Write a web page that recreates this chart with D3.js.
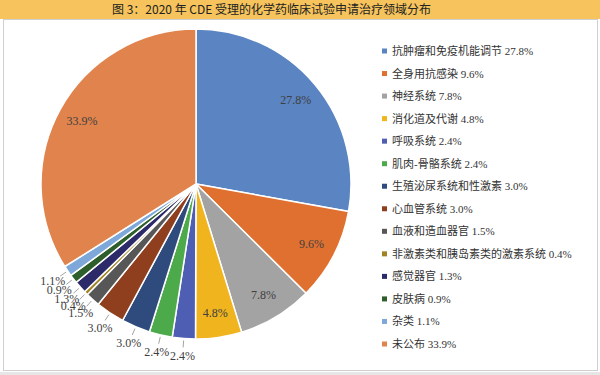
<!DOCTYPE html>
<html>
<head>
<meta charset="utf-8">
<script src="https://d3js.org/d3.v7.min.js"></script>
<style>
  body { margin: 0; background: #fff; }
  svg { display: block; }
</style>
</head>
<body>
<script>
// chart data
var categories = ["抗肿瘤和免疫机能调节", "全身用抗感染", "神经系统", "消化道及代谢", "呼吸系统",
  "肌肉-骨骼系统", "生殖泌尿系统和性激素", "心血管系统", "血液和造血器官",
  "非激素类和胰岛素类的激素系统", "感觉器官", "皮肤病", "杂类", "未公布"];
var shares = [27.8, 9.6, 7.8, 4.8, 2.4, 2.4, 3.0, 3.0, 1.5, 0.4, 1.3, 0.9, 1.1, 33.9];
var sliceColors = ["#5a84c2", "#e07030", "#a3a3a3", "#f0b41e", "#4e5fb3", "#4caa4a", "#2f4b7d",
  "#8f3f1e", "#575757", "#a08424", "#2d2a6a", "#2e5e2b", "#7ea8da", "#e1834c"];
var title = "图 3：2020 年 CDE 受理的化学药临床试验申请治疗领域分布";

var W = 600, H = 375;
var svg = d3.select("body").append("svg").attr("width", W).attr("height", H);

// title bar + frame
svg.append("rect").attr("x", 0).attr("y", 0).attr("width", W).attr("height", 19).attr("fill", "#f6c35c");
svg.append("rect").attr("x", 3.5).attr("y", 19.5).attr("width", 594).attr("height", 351)
  .attr("fill", "#fff").attr("stroke", "#cfcfcf");
svg.append("rect").attr("x", 0).attr("y", 372).attr("width", W).attr("height", 3).attr("fill", "#e6e6e6");
svg.append("text").attr("x", 112).attr("y", 14)
  .style("font-family", "'Noto Sans CJK SC', sans-serif").style("font-size", "12px")
  .style("fill", "#222").text(title);

var data = categories.map(function(c, i) { return { name: c, value: shares[i], color: sliceColors[i] }; });

var cx = 196, cy = 184, r = 155;
var pie = d3.pie().sort(null).value(function(d) { return d.value; });
var arcs = pie(data);
var arc = d3.arc().innerRadius(0).outerRadius(r);

var g = svg.append("g").attr("transform", "translate(" + cx + "," + cy + ")");
g.selectAll("path.slice").data(arcs).enter().append("path")
  .attr("class", "slice")
  .attr("d", arc)
  .attr("fill", function(d) { return d.data.color; })
  .attr("stroke", "#fff").attr("stroke-width", 1.5);

var labelFont = "'Liberation Serif', 'Times New Roman', serif";
function mid(d) { return (d.startAngle + d.endAngle) / 2; }

// big slices: label inside
var inside = arcs.filter(function(d) { return d.data.value >= 4; });
g.selectAll("text.in").data(inside).enter().append("text")
  .attr("class", "in")
  .attr("x", function(d) { return Math.sin(mid(d)) * r * 0.84; })
  .attr("y", function(d) { return -Math.cos(mid(d)) * r * 0.84 + 4; })
  .attr("text-anchor", "middle")
  .style("font-family", labelFont).style("font-size", "12px").style("fill", "#404040")
  .text(function(d) { return d3.format(".1f")(d.data.value) + "%"; });

// small slices: label outside with leader line
var outside = arcs.filter(function(d) { return d.data.value < 4; });
g.selectAll("line.lead").data(outside).enter().append("line")
  .attr("class", "lead")
  .attr("x1", function(d) { return Math.sin(mid(d)) * (r + 2); })
  .attr("y1", function(d) { return -Math.cos(mid(d)) * (r + 2); })
  .attr("x2", function(d) { return Math.sin(mid(d)) * (r + 9); })
  .attr("y2", function(d) { return -Math.cos(mid(d)) * (r + 9); })
  .attr("stroke", "#8c8c8c").attr("stroke-width", 0.8);
g.selectAll("text.out").data(outside).enter().append("text")
  .attr("class", "out")
  .attr("x", function(d) { return Math.sin(mid(d)) * (r + 18); })
  .attr("y", function(d) { return -Math.cos(mid(d)) * (r + 18) + 4; })
  .attr("text-anchor", "middle")
  .style("font-family", labelFont).style("font-size", "12px").style("fill", "#404040")
  .text(function(d) { return d3.format(".1f")(d.data.value) + "%"; });

// legend
var ly = d3.scalePoint().domain(categories).range([51, 344]);
var leg = svg.selectAll("g.leg").data(data).enter().append("g")
  .attr("class", "leg")
  .attr("transform", function(d) { return "translate(382," + ly(d.name) + ")"; });
leg.append("rect").attr("x", 0).attr("y", -2.5).attr("width", 5).attr("height", 5)
  .attr("fill", function(d) { return d.color; });
leg.append("text").attr("x", 10).attr("y", 4)
  .style("font-family", "'Liberation Serif', 'Noto Sans CJK SC', serif").style("font-size", "11px")
  .style("fill", "#333")
  .text(function(d) { return d.name + " " + d3.format(".1f")(d.value) + "%"; });
</script>
</body>
</html>
